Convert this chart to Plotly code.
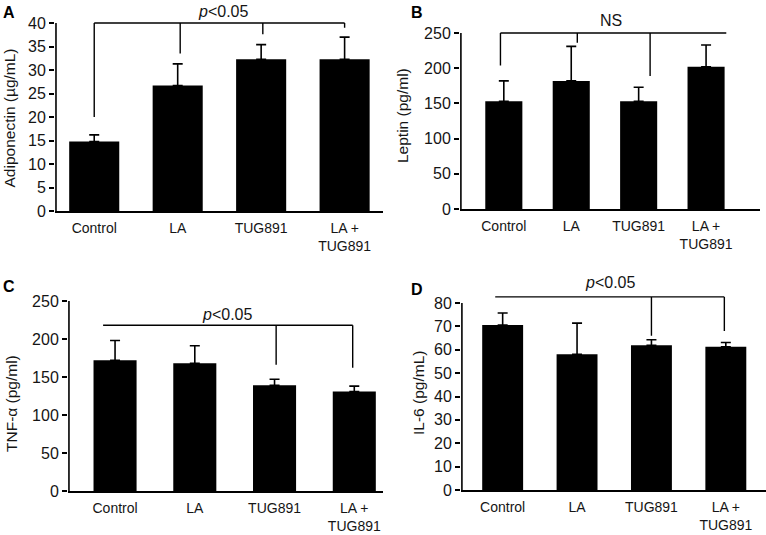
import plotly.graph_objects as go

categories = ["Control", "LA", "TUG891", "LA +<br>TUG891"]

adiponectin = [14.8, 26.7, 32.3, 32.3]
adiponectin_top = [16.2, 31.3, 35.4, 37.0]
leptin = [153, 182, 153, 202]
leptin_top = [182, 231, 173, 233]
tnf = [172, 168, 139, 131]
tnf_top = [198, 191, 147, 138]
il6 = [70.6, 58.1, 61.9, 61.3]
il6_top = [75.7, 71.4, 64.3, 63.1]

# significance brackets: (x_start, x_end, level, [(x, drop_to), ...], label, label_x)
brackets = [
    (0, 3, 40, [(0, 20), (1.03, 33.5), (2.02, 37.6), (3, 39.0)], "<i>p</i>&lt;0.05", 1.54),
    (-0.05, 3.3, 250, [(-0.05, 204), (1.09, 236), (2.17, 189)], "NS", 1.59),
    (-0.15, 2.98, 218, [(2.02, 166), (2.98, 162)], "<i>p</i>&lt;0.05", 1.4),
    (-0.1, 2.98, 82.6, [(2.0, 66), (2.98, 68)], "<i>p</i>&lt;0.05", 1.44),
]
label_shift = [1, 2, 0, 4]

panels = [
    dict(vals=adiponectin, tops=adiponectin_top, title="Adiponectin (µg/mL)", letter="A",
         ticks=list(range(0, 41, 5)), ytop=40, yr=[0, 40.3], xr=[-0.47, 3.46], width=0.6,
         xd=[55 / 766, 383 / 766], yd=[1 - 211 / 535, 1 - 21.6 / 535]),
    dict(vals=leptin, tops=leptin_top, title="Leptin (pg/ml)", letter="B",
         ticks=list(range(0, 251, 50)), ytop=250, yr=[0, 252], xr=[-0.65, 3.8], width=0.55,
         xd=[460 / 766, 760 / 766], yd=[1 - 209 / 535, 1 - 31.6 / 535]),
    dict(vals=tnf, tops=tnf_top, title="TNF-α (pg/ml)", letter="C",
         ticks=list(range(0, 251, 50)), ytop=250, yr=[0, 250.5], xr=[-0.59, 3.36], width=0.54,
         xd=[68 / 766, 383 / 766], yd=[1 - 491 / 535, 1 - 300.6 / 535]),
    dict(vals=il6, tops=il6_top, title="IL-6 (pg/mL)", letter="D",
         ticks=list(range(0, 81, 10)), ytop=80, yr=[0, 84], xr=[-0.56, 3.54], width=0.55,
         xd=[461 / 766, 766 / 766], yd=[1 - 490 / 535, 1 - 293.65 / 535]),
]
letter_pos = [(9, 12.5), (417, 12.5), (9, 286), (417, 289)]
title_pos = [(9.5, 118), (402.5, 115.5), (11.5, 403.5), (418.5, 393.5)]

FONT = "Liberation Sans, Arial, sans-serif"
TXT = "#151515"

fig = go.Figure()
layout = dict(
    width=766, height=535, margin=dict(l=0, r=0, t=0, b=0, autoexpand=False),
    paper_bgcolor="white", plot_bgcolor="white", showlegend=False,
    font=dict(family=FONT, color=TXT),
)
shapes = []
annotations = []

for i, p in enumerate(panels):
    n = "" if i == 0 else str(i + 1)
    xa, ya = "x" + n, "y" + n
    errs = [t - v for t, v in zip(p["tops"], p["vals"])]
    fig.add_trace(go.Bar(
        x=list(range(len(categories))), y=p["vals"], xaxis=xa, yaxis=ya,
        width=p["width"], marker=dict(color="black", line=dict(width=0)),
        error_y=dict(type="data", array=errs, arrayminus=[0] * len(errs), symmetric=False,
                     color="black", thickness=1.6, width=5),
    ))
    layout["xaxis" + n] = dict(
        domain=p["xd"], range=p["xr"], anchor=ya, showgrid=False, zeroline=False,
        showline=True, linecolor="black", linewidth=1.6, ticks="", automargin=False,
        tickvals=list(range(len(categories))), ticktext=categories,
        tickfont=dict(size=14, family=FONT, color=TXT), ticklabelstandoff=3,
        fixedrange=True,
    )
    layout["yaxis" + n] = dict(
        domain=p["yd"], range=p["yr"], anchor=xa, showgrid=False, zeroline=False,
        showline=False, ticks="outside", ticklen=5, tickwidth=1.6, tickcolor="black",
        automargin=False,
        tickvals=p["ticks"], tickfont=dict(size=16, family=FONT, color=TXT),
        fixedrange=True,
    )
    # y axis line up to top tick
    xspan = p["xr"][1] - p["xr"][0]
    x_line = p["xr"][0] + xspan * 0.003
    shapes.append(dict(type="line", xref=xa, yref=ya, x0=x_line, x1=x_line, y0=0, y1=p["ytop"],
                       line=dict(color="black", width=1.6)))
    # bracket
    x0, x1, lvl, drops, lab, labx = brackets[i]
    shapes.append(dict(type="line", xref=xa, yref=ya, x0=x0, x1=x1, y0=lvl, y1=lvl,
                       line=dict(color="black", width=1.4)))
    for dx, dy in drops:
        shapes.append(dict(type="line", xref=xa, yref=ya, x0=dx, x1=dx, y0=lvl, y1=dy,
                           line=dict(color="black", width=1.4)))
    annotations.append(dict(xref=xa, yref=ya, x=labx, y=lvl, text=lab, showarrow=False,
                            yanchor="bottom", yshift=label_shift[i],
                            font=dict(size=16, family=FONT, color=TXT)))
    # y axis title
    tx, ty = title_pos[i]
    annotations.append(dict(xref="paper", yref="paper", x=tx / 766, y=1 - ty / 535,
                            text=p["title"], showarrow=False, textangle=-90,
                            xanchor="center", yanchor="middle",
                            font=dict(size=15.5, family=FONT, color=TXT)))
    # panel letter
    lx, ly = letter_pos[i]
    annotations.append(dict(xref="paper", yref="paper", x=lx / 766, y=1 - ly / 535,
                            text="<b>" + p["letter"] + "</b>", showarrow=False,
                            xanchor="center", yanchor="middle",
                            font=dict(size=16, family=FONT, color="black")))

layout["shapes"] = shapes
layout["annotations"] = annotations
fig.update_layout(**layout)
fig.write_html("out.html", config={"displayModeBar": False},
               post_script="document.body.style.margin='0px';document.body.style.overflow='hidden';")
